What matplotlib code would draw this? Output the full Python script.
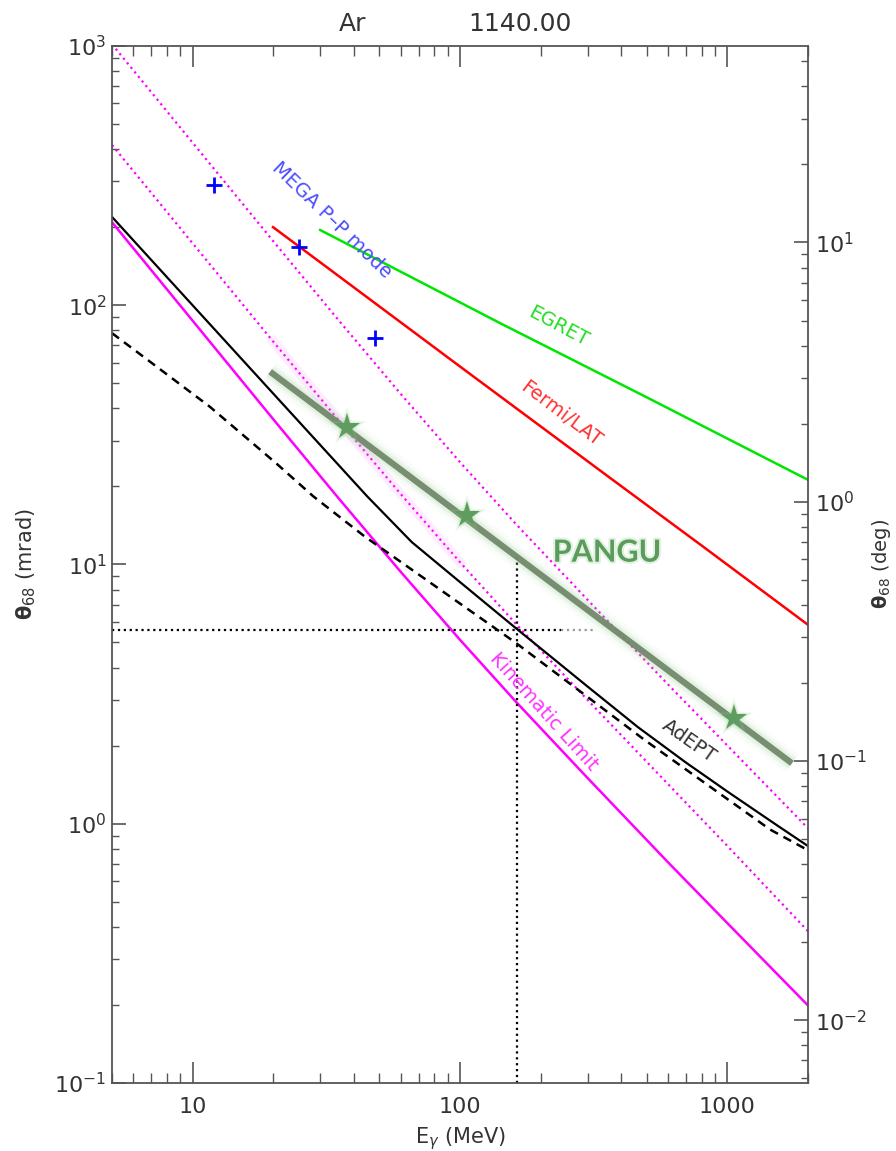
import numpy as np
import matplotlib
matplotlib.use("Agg")
import matplotlib.pyplot as plt
import matplotlib.patheffects as pe

# energies (MeV) and angular resolution (mrad)
kin_energy = [5, 20, 35, 60, 100, 163, 300, 600, 1000, 2000]
kinematic = [209, 36.4, 18.1, 9.37, 5.12, 2.93, 1.50, 0.709, 0.413, 0.199]
dotted_low = [415, 72.5, 36.2, 18.7, 10.2, 5.85, 3.0, 1.42, 0.82, 0.385]
dotted_high = [1015, 177, 88, 45.5, 24.8, 14.2, 7.3, 3.44, 2.0, 0.96]

adept_energy = [5, 10, 20, 45, 66, 100, 161, 300, 462, 700, 1000, 1545, 2000]
adept = [219, 100, 45.7, 18.3, 12.2, 8.55, 5.7, 3.38, 2.36, 1.72, 1.33, 0.98, 0.82]

dashed_energy = [5, 6.55, 11.6, 20.6, 28.3, 44.1, 161, 491, 1442, 2000]
adept_dashed = [78, 63.3, 40.6, 24.5, 18.3, 12.8, 5.0, 2.1, 0.95, 0.79]

fermi_energy = [20, 100, 361, 803, 2000]
fermi = [200, 58, 21.7, 11.8, 5.85]

egret_energy = [30, 142, 491, 2000]
egret = [195, 85, 44.5, 21.2]

pangu_energy = [19.5, 1742]
pangu = [55.4, 1.71]
star_energy = [37.8, 106, 1062]
star_theta = [33.9, 15.5, 2.56]

mega_energy = [12, 25, 48]
mega = [290, 168, 75]

cut_energy = 163
cut_theta = 5.6
cut_top = 10.7

MRAD_PER_DEG = 1000 * np.pi / 180

fig = plt.figure(figsize=(8.96, 11.51), dpi=100)
ax = fig.add_axes([0.125, 0.0591, 0.7768, 0.901])
ax.set_xscale("log")
ax.set_yscale("log")
ax.set_xlim(5, 2000)
ax.set_ylim(0.1, 1000)

# magenta kinematic limit and its multiples
ax.plot(kin_energy, kinematic, color="#ff00ff", lw=1.8)
ax.plot(kin_energy, dotted_low, color="#ff00ff", lw=1.6, ls=":")
ax.plot(kin_energy, dotted_high, color="#ff00ff", lw=1.6, ls=":")
# blurred piece of the dotted line under the PANGU glow
blur = [(e, t) for e, t in zip(kin_energy, dotted_low) if 19 < e < 110]
ax.plot([b[0] for b in blur], [b[1] for b in blur], color="#ff66ff", lw=7, alpha=0.12)

# AdEPT
ax.plot(adept_energy, adept, color="black", lw=1.6)
ax.plot(dashed_energy, adept_dashed, color="black", lw=1.8, dashes=(3.5, 2.5))

# other instruments
ax.plot(fermi_energy, fermi, color="#ff0000", lw=1.8)
ax.plot(egret_energy, egret, color="#00e600", lw=1.8)
ax.plot(mega_energy, mega, ls="none", marker="+", color="#0000ff", ms=12, mew=2)

# cut lines
ax.plot([5, 238], [cut_theta, cut_theta], color="black", lw=1.6, ls=":")
ax.plot([238, 320], [cut_theta, cut_theta], color="#999999", lw=1.6, ls=":")
ax.plot([cut_energy, cut_energy], [0.1, cut_top], color="black", lw=1.6, ls=":")

# PANGU with a soft glow
for w, a in [(16, 0.06), (11, 0.10), (8, 0.15)]:
    ax.plot(pangu_energy, pangu, color="#9fd09f", lw=w, alpha=a, solid_capstyle="butt")
ax.plot(pangu_energy, pangu, color="#71896a", lw=4.5, alpha=0.95, solid_capstyle="butt")
for s, a in [(30, 0.12), (25, 0.2)]:
    ax.plot(star_energy, star_theta, ls="none", marker="*", ms=s, color="#8fcf8f",
            alpha=a, mew=0)
ax.plot(star_energy, star_theta, ls="none", marker="*", ms=20, color="#5f9c5f", mew=0)

# labels
lab = dict(fontsize=14, ha="center", va="center", rotation_mode="anchor")
ax.text(33.2, 213, "MEGA P\u2013P mode", color="#4d4dff", rotation=-44, **lab)
ax.text(234, 83, "EGRET", color="#22dd22", rotation=-28, **lab)
ax.text(238, 38, "Fermi/LAT", color="#ff3030", rotation=-37, **lab)
ax.text(206, 2.7, "Kinematic Limit", color="#ff33ff", rotation=-48, **lab)
ax.text(718, 2.08, "AdEPT", color="#333333", rotation=-35, **lab)
ax.text(354, 11.1, "PANGU", color="#5b9b5b", fontsize=22, fontweight="bold",
        family="Lato", ha="center", va="center",
        path_effects=[pe.withStroke(linewidth=3, foreground="#e2f2e2")])

# axes styling, IDL look
for sp in ax.spines.values():
    sp.set_color("#555555")
    sp.set_linewidth(1.3)
ax.tick_params(which="both", direction="in", top=True, right=False, colors="#555555",
               labelcolor="#333333", labelsize=16)
ax.tick_params(axis="x", which="major", length=15, width=1.2, pad=10)
ax.tick_params(axis="x", which="minor", length=7.5, width=1.0)
ax.tick_params(axis="y", which="major", length=10, width=1.2, pad=4)
ax.tick_params(axis="y", which="minor", length=5, width=1.0)
ax.set_xticks([10, 100, 1000])
ax.set_xticklabels(["10", "100", "1000"])
ax.set_xlabel(r"E$_\gamma$ (MeV)", fontsize=15, color="#333333", labelpad=6)
ax.set_ylabel(r"$\mathbf{\theta}_{68}$ (mrad)", fontsize=15, color="#333333", labelpad=12)

ax2 = ax.twinx()
ax2.set_yscale("log")
ax2.set_ylim(0.1 / MRAD_PER_DEG, 1000 / MRAD_PER_DEG)
ax2.tick_params(which="both", direction="in", colors="#555555", labelcolor="#333333",
                labelsize=16)
ax2.tick_params(which="major", length=10, width=1.2, pad=5)
ax2.tick_params(which="minor", length=5, width=1.0)
ax2.set_ylabel(r"$\mathbf{\theta}_{68}$ (deg)", fontsize=14, color="#333333", labelpad=2)
for sp in ax2.spines.values():
    sp.set_visible(False)

fig.text(353 / 896, 1 - 24 / 1151, "Ar", fontsize=18, color="#333333", ha="center", va="center")
fig.text(520 / 896, 1 - 24 / 1151, "1140.00", fontsize=18, color="#333333", ha="center", va="center")

fig.savefig("out.png", dpi=100)
